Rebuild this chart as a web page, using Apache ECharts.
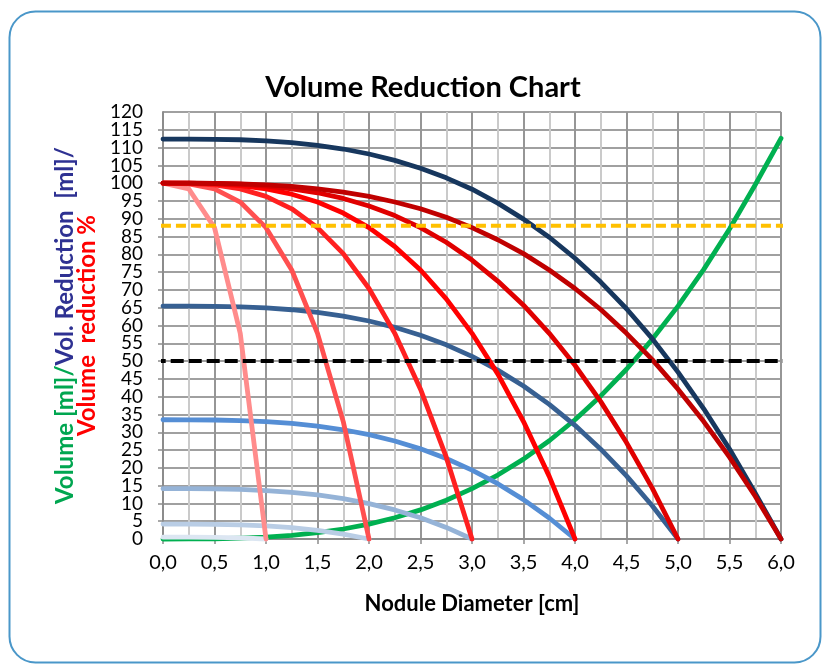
<!DOCTYPE html>
<html>
<head>
<meta charset="utf-8">
<script src="https://cdn.jsdelivr.net/npm/echarts@6/dist/echarts.min.js"></script>
<style>
html,body{margin:0;padding:0;background:#fff;}
#chart{width:822px;height:666px;}
</style>
</head>
<body>
<div id="chart"></div>
<script>
// Nodule diameters (x, cm)
const diameters = [0,0.25,0.5,0.75,1,1.25,1.5,1.75,2,2.25,2.5,2.75,3,3.25,3.5,3.75,4,4.25,4.5,4.75,5,5.25,5.5,5.75,6];

// Sphere volume [ml] (green)
const volume = [0,0.01,0.07,0.22,0.52,1.02,1.77,2.81,4.19,5.96,8.18,10.89,14.14,17.98,22.45,27.61,33.51,40.2,47.71,56.11,65.45,75.77,87.11,99.54,112.6];

// Volume reduction % for nodules of 1..6 cm (reds)
const red1 = [100,98.4,87.5,57.8,0];
const red2 = [100,99.8,98.4,94.7,87.5,75.6,57.8,33.0,0];
const red3 = [100,99.9,99.5,98.4,96.3,92.8,87.5,80.2,70.4,57.8,42.1,23.0,0];
const red4 = [100,100,99.8,99.3,98.4,96.9,94.7,91.6,87.5,82.2,75.6,67.5,57.8,46.4,33.0,17.6,0];
const red5 = [100,100,99.9,99.7,99.2,98.4,97.3,95.7,93.6,90.9,87.5,83.4,78.4,72.5,65.7,57.8,48.8,38.6,27.1,14.3,0];
const red6 = [100,100,99.9,99.8,99.5,99.1,98.4,97.5,96.3,94.7,92.8,90.4,87.5,84.1,80.2,75.6,70.4,64.5,57.8,50.4,42.1,33.0,23.0,12.0,0];

// Volume [ml] for nodules of 1..6 cm (blues)
const blue1 = [0.52,0.51,0.46,0.30,0];
const blue2 = [4.19,4.18,4.12,3.97,3.67,3.17,2.42,1.38,0];
const blue3 = [14.14,14.13,14.07,13.92,13.61,13.11,12.37,11.33,9.95,8.17,5.95,3.25,0];
const blue4 = [33.51,33.50,33.44,33.29,32.99,32.49,31.74,30.70,29.32,27.55,25.33,22.62,19.37,15.53,11.06,5.90,0];
const blue5 = [65.45,65.44,65.38,65.23,64.93,64.43,63.68,62.64,61.26,59.49,57.27,54.56,51.31,47.47,43.00,37.84,31.94,25.25,17.74,9.34,0];
const blue6 = [112.4,112.4,112.3,112.2,111.9,111.4,110.6,109.6,108.2,106.4,104.2,101.5,98.3,94.4,89.9,84.8,78.9,72.2,64.7,56.3,46.9,36.6,25.3,12.9,0];

// Reference lines
const refBlackX = [-0.1, 6.1];
const refBlackY = [50, 50];
const refYellowX = [-0.02, 6.02];
const refYellowY = [88, 88];

const FONT = 'Lato, "Open Sans", sans-serif';

function pairs(xs, ys) { return ys.map((y, i) => [xs[i], y]); }

function lineSeries(name, ys, color, xs) {
  return {
    name: name, type: 'line', data: pairs(xs || diameters, ys),
    showSymbol: false, symbol: 'none', smooth: false, clip: false,
    lineStyle: { color: color, width: 4.8, cap: 'round', join: 'round' },
    silent: true, animation: false, z: 3
  };
}

const series = [
  lineSeries('Volume', volume, '#00b050'),
  lineSeries('V1', blue1, '#dce6f2'),
  lineSeries('V2', blue2, '#b9cde5'),
  lineSeries('V3', blue3, '#95b3d7'),
  lineSeries('V4', blue4, '#558ed5'),
  lineSeries('V5', blue5, '#376092'),
  lineSeries('V6', blue6, '#17375e'),
  lineSeries('R1', red1, '#ff8c8c'),
  lineSeries('R2', red2, '#ff5050'),
  lineSeries('R3', red3, '#ff2020'),
  lineSeries('R4', red4, '#ff0000'),
  lineSeries('R5', red5, '#e00000'),
  lineSeries('R6', red6, '#c00000'),
  Object.assign(lineSeries('88%', refYellowY, '#ffc000', refYellowX), {lineStyle: {color:'#ffc000', width:4, type:[10,5]}, z: 4}),
  Object.assign(lineSeries('50%', refBlackY, '#000000', refBlackX), {lineStyle: {color:'#000000', width:4, type:[13,5]}, z: 4})
];

const yLabelStyle = { margin: 20, fontFamily: FONT, fontSize: 19, color: '#000' };

const chart = echarts.init(document.getElementById('chart'), null, {renderer: 'canvas'});
chart.setOption({
  backgroundColor: '#ffffff',
  animation: false,
  title: {
    text: 'Volume Reduction Chart',
    left: 418, top: 68, textAlign: 'center',
    textStyle: { fontFamily: FONT, fontWeight: 'bold', fontSize: 29, color: '#000' }
  },
  graphic: [{
    type: 'rect', left: 7, top: 9, silent: true,
    shape: { width: 811, height: 651, r: 26 },
    style: { fill: 'none', stroke: '#4a97c9', lineWidth: 2 }
  }],
  grid: { left: 163, right: 41, top: 112, bottom: 127, containLabel: false },
  xAxis: {
    type: 'value', min: 0, max: 6, interval: 0.5,
    name: 'Nodule Diameter [cm]', nameLocation: 'middle', nameGap: 54,
    nameTextStyle: { fontFamily: FONT, fontWeight: 'bold', fontSize: 22, color: '#000' },
    axisLine: { show: true, lineStyle: { color: '#8c8c8c', width: 2 } },
    axisTick: { show: true, length: 5, inside: false, lineStyle: { color: '#8c8c8c', width: 1.5 } },
    axisLabel: { margin: 14, fontFamily: FONT, fontSize: 20, color: '#000',
      showMinLabel: true, showMaxLabel: true,
      formatter: v => v.toFixed(1).replace('.', ',') },
    splitLine: { show: true, lineStyle: { color: '#969696', width: 2 } },
    minorTick: { show: false, splitNumber: 2 },
    minorSplitLine: { show: true, lineStyle: { color: '#cacaca', width: 2 } }
  },
  yAxis: [{
    type: 'value', min: 0, max: 120, interval: 5,
    name: '{g|Volume [ml]/}{b|Vol. Reduction  [ml]/}\n{r|Volume  reduction %}',
    nameLocation: 'middle', nameRotate: 90, nameGap: 55,
    nameTextStyle: {
      fontFamily: FONT, fontWeight: 'bold', fontSize: 24,
      rich: {
        g: { color: '#00a650', fontFamily: FONT, fontWeight: 'bold', fontSize: 24, lineHeight: 22 },
        b: { color: '#2e3192', fontFamily: FONT, fontWeight: 'bold', fontSize: 24, lineHeight: 22 },
        r: { color: '#ff0000', fontFamily: FONT, fontWeight: 'bold', fontSize: 24, lineHeight: 22 }
      }
    },
    axisLine: { show: true, lineStyle: { color: '#8c8c8c', width: 2 } },
    axisTick: { show: true, length: 5, lineStyle: { color: '#8c8c8c', width: 1.5 } },
    axisLabel: Object.assign({ showMinLabel: false, showMaxLabel: false }, yLabelStyle),
    splitLine: { show: true, lineStyle: { color: '#a0a0a0', width: 2 } }
  }, {
    // second overlaid axis only to print the end labels 0 and 120
    type: 'value', min: 0, max: 120, interval: 120, position: 'left',
    axisLine: { show: false }, axisTick: { show: false }, splitLine: { show: false },
    axisLabel: Object.assign({ showMinLabel: true, showMaxLabel: true }, yLabelStyle)
  }],
  series: series
});
</script>
</body>
</html>
